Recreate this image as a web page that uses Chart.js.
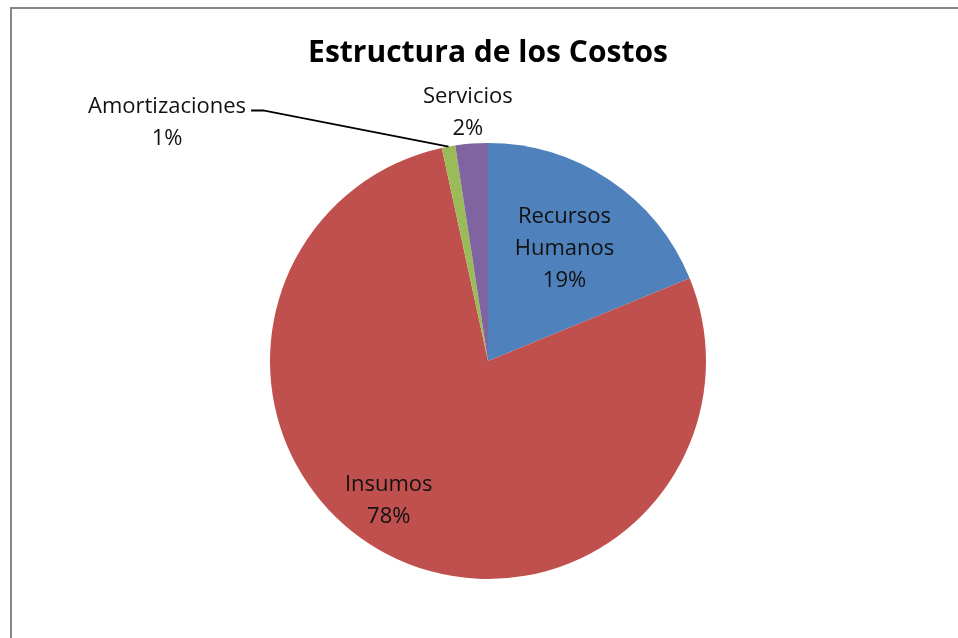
<!DOCTYPE html>
<html>
<head>
<meta charset="utf-8">
<script src="https://cdn.jsdelivr.net/npm/chart.js@4"></script>
<style>
    html, body { margin: 0; padding: 0; background: #fff; overflow: hidden; }
    #frame {
        position: absolute; left: 10px; top: 7px;
        width: 2000px; height: 2000px;
        border: 2px solid #878787;
    }
    #myChart { position: absolute; left: 0; top: 0; }
</style>
</head>
<body>
<div id="frame"></div>
<canvas id="myChart" width="958" height="638"></canvas>
<script>
const categories = ['Recursos Humanos', 'Insumos', 'Amortizaciones', 'Servicios'];
const categoryLines = [['Recursos', 'Humanos'], ['Insumos'], ['Amortizaciones'], ['Servicios']];
const costShares = [18.8, 77.8, 1.0, 2.4];
const sliceColors = ['#4F81BD', '#C0504D', '#9BBB59', '#8064A2'];

// where each label sits: fraction of radius and angle shift (deg) from slice middle
const labelPlace = [
    { r: 0.63, shift: 0 },
    { r: 0.78, shift: 8 },
    { r: 1.84, shift: -42.7, leader: true },
    { r: 1.15, shift: -0.3 },
];

const FONT = '"Open Sans", Lato, sans-serif';

const pieLabels = {
    id: 'pieLabels',
    afterDatasetsDraw(chart) {
        const ctx = chart.ctx;
        const arcs = chart.getDatasetMeta(0).data;
        const total = costShares.reduce((a, b) => a + b, 0);
        ctx.save();
        ctx.font = '22px ' + FONT;
        ctx.fillStyle = '#111';
        ctx.textAlign = 'center';
        ctx.textBaseline = 'middle';
        arcs.forEach((arc, i) => {
            const p = labelPlace[i];
            const mid = (arc.startAngle + arc.endAngle) / 2;
            const a = mid + p.shift * Math.PI / 180;
            const cx = arc.x + Math.cos(a) * arc.outerRadius * p.r;
            const cy = arc.y + Math.sin(a) * arc.outerRadius * p.r + 2;
            const lines = categoryLines[i].concat([Math.round(costShares[i] / total * 100) + '%']);
            const lh = 32;
            const y0 = cy - (lines.length - 1) * lh / 2;
            lines.forEach((t, k) => ctx.fillText(t, cx, y0 + k * lh));

            if (p.leader) {
                const w = ctx.measureText(lines[0]).width;
                const sx = cx + w / 2 + 5;
                const sy = y0 + 4;
                const ex = arc.x + Math.cos(mid) * arc.outerRadius;
                const ey = arc.y + Math.sin(mid) * arc.outerRadius;
                ctx.beginPath();
                ctx.moveTo(sx, sy);
                ctx.lineTo(sx + 12, sy);
                ctx.lineTo(ex, ey);
                ctx.strokeStyle = '#000';
                ctx.lineWidth = 2;
                ctx.stroke();
            }
        });
        ctx.restore();
    }
};

const ctx = document.getElementById('myChart').getContext('2d');
new Chart(ctx, {
    type: 'pie',
    data: {
        labels: categories,
        datasets: [{
            data: costShares,
            backgroundColor: sliceColors,
            borderWidth: 0,
        }],
    },
    options: {
        responsive: false,
        animation: false,
        events: [],
        layout: {
            padding: { left: 270, right: 252, top: 35, bottom: 59 },
        },
        plugins: {
            legend: { display: false },
            tooltip: { enabled: false },
            title: {
                display: true,
                text: 'Estructura de los Costos',
                color: '#000',
                font: { family: FONT, size: 30, weight: 'bold' },
                padding: { top: 0, bottom: 72 },
            },
        },
    },
    plugins: [pieLabels],
});
</script>
</body>
</html>
